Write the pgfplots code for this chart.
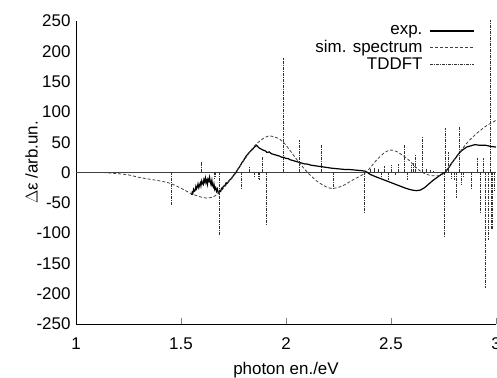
\documentclass[border=0pt]{standalone}
\usepackage{fontspec}
\setmainfont{Liberation Sans}
\usepackage{pgfplots}
\pgfplotsset{compat=1.18}
\begin{document}
\begin{tikzpicture}
\begin{axis}[name=ax,
  scale only axis, width=420bp, height=303bp,
  xmin=1, xmax=3, ymin=-250, ymax=250,
  axis x line=bottom, axis y line=left,
  axis line style={-, line width=0.9bp},
  xtick={1,1.5,2,2.5,3}, xticklabels={1,1.5,2,2.5,3},
  ytick={-250,-200,-150,-100,-50,0,50,100,150,200,250},
  yticklabels={-250,-200,-150,-100,-50,0,50,100,150,200,250},
  ytick style={draw=none},
  xtick style={line width=0.8bp},
  tick align=inside, major tick length=6bp,
  ticklabel style={font=\fontsize{17}{20}\selectfont},
  xticklabel style={yshift=-10bp},
  yticklabel style={xshift=-2bp},
  xlabel={photon en./eV}, ylabel={$\Delta$ε /arb.un.},
  label style={font=\fontsize{17}{20}\selectfont},
  xlabel style={yshift=-6bp},
  ylabel style={yshift=-8bp, xshift=10bp},
  legend plot pos=right,
  legend cell align=right,
  legend style={at={(0.952,0.995)}, anchor=north east, draw=none, fill=none,
    font=\fontsize{17}{18}\selectfont, row sep=0bp, column sep=5bp, inner sep=1bp},
  legend image code/.code={\draw[#1] (2bp,0bp) -- (46bp,0bp);},
  clip=true,
]
\draw[line width=1.6bp, black!75] (axis cs:1,0) -- (axis cs:3,0);
% TDDFT sticks
\addplot[ycomb, no marks, black!80, line width=0.7bp, dash pattern=on 3bp off 1bp on 1bp off 1bp, forget plot] coordinates {
(1.452,-55) (1.595,17) (1.657,-10) (1.664,-8) (1.681,-105) (1.786,-27)
(1.824,9) (1.848,-8) (1.867,-10) (1.875,-12) (1.889,25) (1.905,-87)
(1.986,189) (2.062,54) (2.167,45) (2.224,-28) (2.371,-68)
(2.40,5) (2.42,8) (2.44,6) (2.455,-8) (2.47,10) (2.485,-12) (2.50,12)
(2.52,-6) (2.535,14) (2.562,45) (2.58,-12) (2.595,12) (2.605,16) (2.614,29)
(2.648,59) (2.67,5) (2.685,4) (2.70,3) (2.752,-108) (2.757,73) (2.771,34)
(2.785,-10) (2.80,-12) (2.810,-42) (2.824,75) (2.833,-21) (2.845,-8)
(2.881,-28) (2.910,24) (2.924,-67) (2.938,24) (2.948,-191) (2.962,-112)
(2.971,260) (2.976,-95) (2.981,-95) (2.99,-30)
};
% exp
\addplot[black, line width=1.2bp, no marks] coordinates {
(1.550,-37) (1.553,-33) (1.556,-35) (1.560,-28) (1.563,-31) (1.567,-30)
(1.571,-23) (1.574,-27) (1.578,-24) (1.581,-19) (1.585,-25) (1.588,-21)
(1.592,-17) (1.595,-22) (1.599,-14) (1.602,-18) (1.606,-20) (1.609,-12)
(1.612,-15) (1.616,-9) (1.619,-17) (1.623,-13) (1.626,-19) (1.629,-11)
(1.633,-14) (1.636,-8) (1.640,-16) (1.643,-20) (1.647,-13) (1.650,-21)
(1.654,-24) (1.657,-19) (1.661,-28) (1.665,-25) (1.669,-31) (1.673,-27)
(1.677,-33) (1.681,-35) (1.685,-30) (1.689,-31) (1.693,-26) (1.697,-27)
(1.700,-24) (1.705,-22) (1.710,-21) (1.715,-17) (1.720,-18) (1.730,-13)
(1.740,-10) (1.750,-5) (1.760,-1) (1.770,5) (1.780,10) (1.790,16)
(1.800,21) (1.810,27) (1.820,31) (1.830,35) (1.840,38) (1.850,42)
(1.860,45) (1.870,41) (1.880,39) (1.890,37) (1.900,36) (1.910,33)
(1.920,34) (1.930,31) (1.940,30) (1.950,29) (1.960,28) (1.970,27)
(1.980,25) (1.990,25) (2.000,23) (2.010,23) (2.020,21) (2.030,20)
(2.040,19) (2.050,18) (2.060,17) (2.070,16) (2.080,15) (2.090,14)
(2.100,14) (2.120,12) (2.140,11) (2.160,10) (2.180,9) (2.200,8)
(2.220,7) (2.250,6) (2.280,5) (2.300,5) (2.330,4) (2.360,3)
(2.380,2) (2.400,-3) (2.420,-6) (2.450,-10) (2.480,-14) (2.510,-18)
(2.540,-22) (2.570,-26) (2.600,-29) (2.620,-30) (2.640,-29) (2.660,-25)
(2.680,-19) (2.700,-13) (2.720,-8) (2.740,-3) (2.757,0) (2.775,8)
(2.790,16) (2.810,25) (2.824,32) (2.840,37) (2.860,42) (2.880,44)
(2.900,46) (2.920,45) (2.950,45) (2.975,43) (3.000,42)
};
\addlegendentry{exp.}
% sim spectrum
\addplot[black!75, line width=0.8bp, densely dashed, smooth, no marks] coordinates {
(1.13,0) (1.20,-2) (1.25,-4) (1.30,-8) (1.35,-11) (1.40,-14) (1.45,-18)
(1.50,-26) (1.55,-35) (1.60,-41) (1.63,-42) (1.66,-39) (1.70,-27)
(1.74,-9) (1.76,0) (1.80,20) (1.85,44) (1.90,58) (1.93,60) (1.97,55)
(2.00,45) (2.05,22) (2.10,1) (2.15,-15) (2.20,-25) (2.23,-26) (2.27,-22)
(2.32,-12) (2.38,0) (2.43,20) (2.47,33) (2.50,37) (2.53,34) (2.58,22)
(2.62,8) (2.65,0) (2.69,-5) (2.73,-5) (2.757,0) (2.79,16) (2.824,32)
(2.86,48) (2.90,62) (2.95,76) (3.00,86)
};
\addlegendentry{sim. spectrum}
\addlegendimage{black!80, line width=0.8bp, dash pattern=on 3bp off 1bp on 1bp off 1bp}
\addlegendentry{TDDFT}
\end{axis}
\pgfresetboundingbox
\path ([xshift=-76bp, yshift=-54bp]ax.south west) rectangle ([xshift=1bp, yshift=21bp]ax.north east);
\end{tikzpicture}
\end{document}
